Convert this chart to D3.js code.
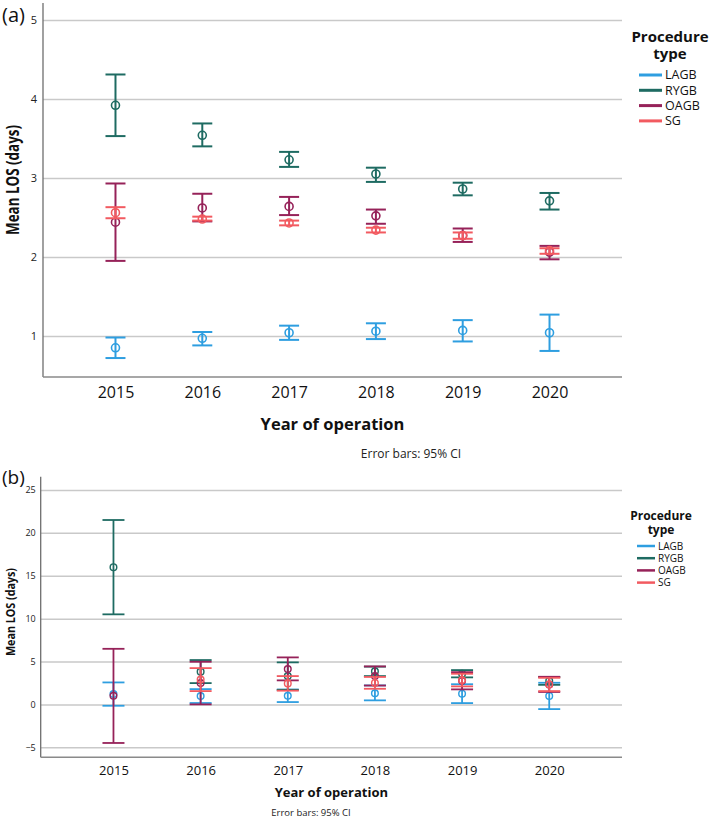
<!DOCTYPE html>
<html><head><meta charset="utf-8">
<script src="https://cdn.jsdelivr.net/npm/d3@7/dist/d3.min.js"></script>
<style>body{margin:0;background:#fff}svg{display:block}text{font-family:"Open Sans",sans-serif}</style>
</head><body><svg id="c" width="709" height="819"></svg>
<script>
const years = ["2015","2016","2017","2018","2019","2020"];
const seriesNames = ["LAGB","RYGB","OAGB","SG"];
const seriesColors = ["#2e9ee0","#1e6b62","#962259","#f25a60"];

// Panel (a)
const aTicks = [1,2,3,4,5];
const aLAGBMean = [0.85,0.97,1.04,1.06,1.07,1.04];
const aLAGBLow  = [0.72,0.88,0.95,0.96,0.93,0.81];
const aLAGBHigh = [0.98,1.05,1.13,1.16,1.20,1.27];
const aRYGBMean = [3.92,3.54,3.23,3.05,2.86,2.71];
const aRYGBLow  = [3.53,3.40,3.14,2.95,2.78,2.60];
const aRYGBHigh = [4.31,3.69,3.33,3.13,2.94,2.81];
const aOAGBMean = [2.44,2.62,2.64,2.52,2.27,2.06];
const aOAGBLow  = [1.95,2.45,2.53,2.42,2.19,1.97];
const aOAGBHigh = [2.93,2.80,2.76,2.60,2.36,2.14];
const aSGMean   = [2.56,2.48,2.43,2.34,2.27,2.08];
const aSGLow    = [2.49,2.46,2.40,2.31,2.23,2.04];
const aSGHigh   = [2.63,2.51,2.46,2.37,2.31,2.11];

// Panel (b)
const bTicks = [-5,0,5,10,15,20,25];
const bLAGBMean = [1.20,0.97,1.00,1.30,1.25,0.99];
const bLAGBLow  = [-0.16,0.16,0.27,0.47,0.15,-0.55];
const bLAGBHigh = [2.56,1.78,1.73,2.21,2.35,2.52];
const bRYGBMean = [16.0,3.82,3.30,3.85,3.57,2.74];
const bRYGBLow  = [10.5,2.48,1.70,3.30,3.15,2.28];
const bRYGBHigh = [21.5,5.17,4.90,4.40,4.00,3.20];
const bOAGBMean = [1.00,2.48,4.12,3.30,2.75,2.33];
const bOAGBLow  = [-4.5,0.00,2.80,2.20,1.75,1.45];
const bOAGBHigh = [6.48,4.97,5.48,4.43,3.76,3.22];
const bSGMean   = [null,2.89,2.45,2.50,2.83,2.33];
const bSGLow    = [null,1.55,1.60,1.82,2.10,1.55];
const bSGHigh   = [null,4.23,3.30,3.20,3.57,3.10];

const svg = d3.select("#c");

function panel(cfg){
  const g = svg.append("g");
  const x = d3.scalePoint().domain(years).range([cfg.left, cfg.right]).padding(0.835);
  const y = d3.scaleLinear().domain(cfg.domain).range([cfg.bottom, cfg.top]);
  g.append("g").attr("transform",`translate(${cfg.left},0)`)
    .call(d3.axisLeft(y).tickValues(cfg.ticks).tickSize(-(cfg.right-cfg.left)).tickPadding(cfg.tickPad).tickFormat(d3.format("d")))
    .call(s=>{
      s.select(".domain").remove();
      s.selectAll(".tick line").attr("stroke","#c9c9c9").attr("stroke-width",1.5);
      s.selectAll(".tick text").attr("font-size",cfg.yTickSize).attr("fill","#222").style("font-family","Open Sans");
    });
  g.append("line").attr("x1",cfg.left).attr("x2",cfg.left).attr("y1",cfg.top).attr("y2",cfg.bottom).attr("stroke","#6e6e6e").attr("stroke-width",1.3);
  g.append("line").attr("x1",cfg.left).attr("x2",cfg.right).attr("y1",cfg.bottom).attr("y2",cfg.bottom).attr("stroke","#8a8a8a").attr("stroke-width",1.5);
  g.append("g").attr("transform",`translate(0,${cfg.bottom})`)
    .call(d3.axisBottom(x).tickSize(0).tickPadding(cfg.xTickPad))
    .call(s=>{
      s.select(".domain").remove();
      s.selectAll(".tick text").attr("font-size",cfg.xTickSize).attr("fill","#111").style("font-family","Open Sans");
    });
  cfg.data.forEach((sd,i)=>{
    const col = seriesColors[i];
    const sg = g.append("g");
    years.forEach((yr,j)=>{
      if(sd.mean[j]==null) return;
      const cx = x(yr);
      sg.append("line").attr("x1",cx).attr("x2",cx).attr("y1",y(sd.low[j])).attr("y2",y(sd.high[j])).attr("stroke",col).attr("stroke-width",cfg.sw);
      [sd.low[j],sd.high[j]].forEach(v=>{
        sg.append("line").attr("x1",cx-cfg.cap).attr("x2",cx+cfg.cap).attr("y1",y(v)).attr("y2",y(v)).attr("stroke",col).attr("stroke-width",cfg.sw);
      });
      sg.append("circle").attr("cx",cx).attr("cy",y(sd.mean[j])).attr("r",cfg.r).attr("fill","none").attr("stroke",col).attr("stroke-width",cfg.sw*0.8);
    });
  });
  g.append("text").attr("x",(cfg.left+cfg.right)/2).attr("y",cfg.xTitleY).attr("text-anchor","middle")
    .attr("font-size",cfg.xTitleSize).attr("font-weight","bold").attr("fill","#111").text("Year of operation");
  g.append("text").attr("transform",`translate(${cfg.yTitleX},${cfg.yTitleY}) rotate(-90)`).attr("text-anchor","middle")
    .attr("font-size",cfg.yTitleSize).attr("font-weight","bold").attr("fill","#111")
    .attr("textLength",cfg.yTitleLen).attr("lengthAdjust","spacingAndGlyphs").text("Mean LOS (days)");
  g.append("text").attr("x",cfg.noteX).attr("y",cfg.noteY).attr("text-anchor","middle")
    .attr("font-size",cfg.noteSize).attr("fill","#222").text("Error bars: 95% CI");
  g.append("text").attr("x",2).attr("y",cfg.labelY).attr("font-size",cfg.labelSize).attr("fill","#111").text(cfg.label);
  const L = cfg.legend;
  g.append("text").attr("x",L.cx).attr("y",L.t1).attr("text-anchor","middle").attr("font-size",L.titleSize).attr("font-weight","bold").attr("fill","#111").text("Procedure");
  g.append("text").attr("x",L.cx).attr("y",L.t2).attr("text-anchor","middle").attr("font-size",L.titleSize).attr("font-weight","bold").attr("fill","#111").text("type");
  seriesNames.forEach((n,i)=>{
    const yy = L.y0 + i*L.dy;
    g.append("line").attr("x1",L.x1).attr("x2",L.x2).attr("y1",yy).attr("y2",yy).attr("stroke",seriesColors[i]).attr("stroke-width",L.sw);
    g.append("text").attr("x",L.tx).attr("y",yy).attr("dy","0.35em").attr("font-size",L.itemSize).attr("fill","#111").text(n);
  });
}

panel({
  left:43, right:622, top:3, bottom:377, domain:[0.48,5.215], ticks:aTicks,
  yTickSize:11, tickPad:6, xTickSize:16, xTickPad:10, sw:2, cap:10, r:4,
  xTitleY:430, xTitleSize:16.5, yTitleX:19, yTitleY:180, yTitleSize:17, yTitleLen:110,
  noteX:411, noteY:458, noteSize:12, label:"(a)", labelY:22, labelSize:20,
  data:[
    {mean:aLAGBMean,low:aLAGBLow,high:aLAGBHigh},
    {mean:aRYGBMean,low:aRYGBLow,high:aRYGBHigh},
    {mean:aOAGBMean,low:aOAGBLow,high:aOAGBHigh},
    {mean:aSGMean,low:aSGLow,high:aSGHigh}],
  legend:{cx:670,t1:42,t2:59,titleSize:15,x1:639,x2:662,tx:665,y0:75,dy:15.3,sw:3,itemSize:12.5}
});

panel({
  left:40.7, right:622, top:476.7, bottom:757.3, domain:[-6.17,26.55], ticks:bTicks,
  yTickSize:9, tickPad:5, xTickSize:13, xTickPad:8, sw:1.8, cap:11, r:3.3,
  xTitleY:797, xTitleSize:13, yTitleX:15, yTitleY:612, yTitleSize:13, yTitleLen:88,
  noteX:311, noteY:816, noteSize:9.5, label:"(b)", labelY:484, labelSize:19,
  data:[
    {mean:bLAGBMean,low:bLAGBLow,high:bLAGBHigh},
    {mean:bRYGBMean,low:bRYGBLow,high:bRYGBHigh},
    {mean:bOAGBMean,low:bOAGBLow,high:bOAGBHigh},
    {mean:bSGMean,low:bSGLow,high:bSGHigh}],
  legend:{cx:661,t1:520,t2:533.5,titleSize:12,x1:637,x2:655,tx:658,y0:546,dy:12.2,sw:2.5,itemSize:10}
});
</script></body></html>
